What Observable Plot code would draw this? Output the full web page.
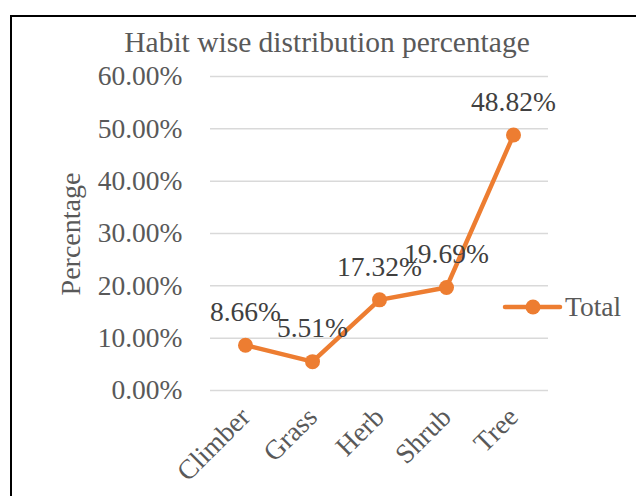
<!DOCTYPE html>
<html>
<head>
<meta charset="utf-8">
<script src="https://cdn.jsdelivr.net/npm/d3@7"></script>
<script src="https://cdn.jsdelivr.net/npm/@observablehq/plot@0.6"></script>
<style>
  html, body { margin: 0; padding: 0; background: #fff; }
  #wrap { position: relative; width: 636px; height: 496px; overflow: hidden; background: #fff; }
  #frame { position: absolute; left: 10px; top: 15px; width: 640px; height: 500px;
           border-top: 2px solid #000; border-left: 2px solid #000; box-sizing: border-box; }
  #chart { position: absolute; left: 0; top: 0; }
  #chart svg, #chart svg text { font-family: "Liberation Serif", "Times New Roman", serif !important; }
  #overlay { position: absolute; left: 0; top: 0; pointer-events: none; }
</style>
</head>
<body>
<div id="wrap">
  <div id="frame"></div>
  <div id="chart"></div>
  <svg id="overlay" width="636" height="496"></svg>
</div>
<script>
const chartTitle = "Habit wise distribution percentage";
const yTitle = "Percentage";
const seriesName = "Total";
const categories = ["Climber", "Grass", "Herb", "Shrub", "Tree"];
const values = [0.0866, 0.0551, 0.1732, 0.1969, 0.4882];
const valueLabels = ["8.66%", "5.51%", "17.32%", "19.69%", "48.82%"];
const yTicks = [0, 0.1, 0.2, 0.3, 0.4, 0.5, 0.6];

const data = categories.map((c, i) => ({category: c, value: values[i], label: valueLabels[i]}));

const orange = "#ED7D31";
const font = "Liberation Serif";
const fs = 27.5;

const plot = Plot.plot({
  width: 636,
  height: 496,
  marginLeft: 210,
  marginRight: 88,
  marginTop: 76,
  marginBottom: 106,
  style: {fontFamily: font, fontSize: fs + "px", color: "#595959", background: "transparent", overflow: "visible"},
  x: {type: "point", domain: categories, padding: 0.5, label: null},
  y: {domain: [0, 0.6], label: null},
  marks: [
    Plot.gridY(yTicks, {stroke: "#d9d9d9", strokeOpacity: 1, strokeWidth: 1.5}),
    Plot.axisY(yTicks, {tickFormat: d3.format(".2%"), tickSize: 0, tickPadding: 28, label: null, fontSize: fs, fontFamily: font}),
    Plot.axisX({tickSize: 0, tickRotate: -45, tickPadding: 22, label: null, fontSize: fs, fontFamily: font}),
    Plot.line(data, {x: "category", y: "value", stroke: orange, strokeWidth: 4.5}),
    Plot.dot(data, {x: "category", y: "value", r: 7.5, fill: orange, stroke: "none"}),
    Plot.text(data, {x: "category", y: "value", text: "label", dy: -33, fill: "#404040", fontSize: fs, fontFamily: font})
  ]
});
document.getElementById("chart").appendChild(plot);

// overlay: title, axis title, legend
const ov = d3.select("#overlay");
ov.append("text")
  .attr("x", 327).attr("y", 52)
  .attr("text-anchor", "middle")
  .attr("font-family", font).attr("font-size", 29.5).attr("fill", "#595959")
  .text(chartTitle);
ov.append("text")
  .attr("transform", "translate(80,234) rotate(-90)")
  .attr("text-anchor", "middle")
  .attr("font-family", font).attr("font-size", 28).attr("fill", "#595959")
  .text(yTitle);
const lg = ov.append("g");
lg.append("line").attr("x1", 505).attr("x2", 560).attr("y1", 307).attr("y2", 307)
  .attr("stroke", orange).attr("stroke-width", 4.5).attr("stroke-linecap", "round");
lg.append("circle").attr("cx", 533).attr("cy", 307).attr("r", 7.5).attr("fill", orange);
lg.append("text").attr("x", 565).attr("y", 316)
  .attr("font-family", font).attr("font-size", fs).attr("fill", "#595959")
  .text(seriesName);
</script>
</body>
</html>
